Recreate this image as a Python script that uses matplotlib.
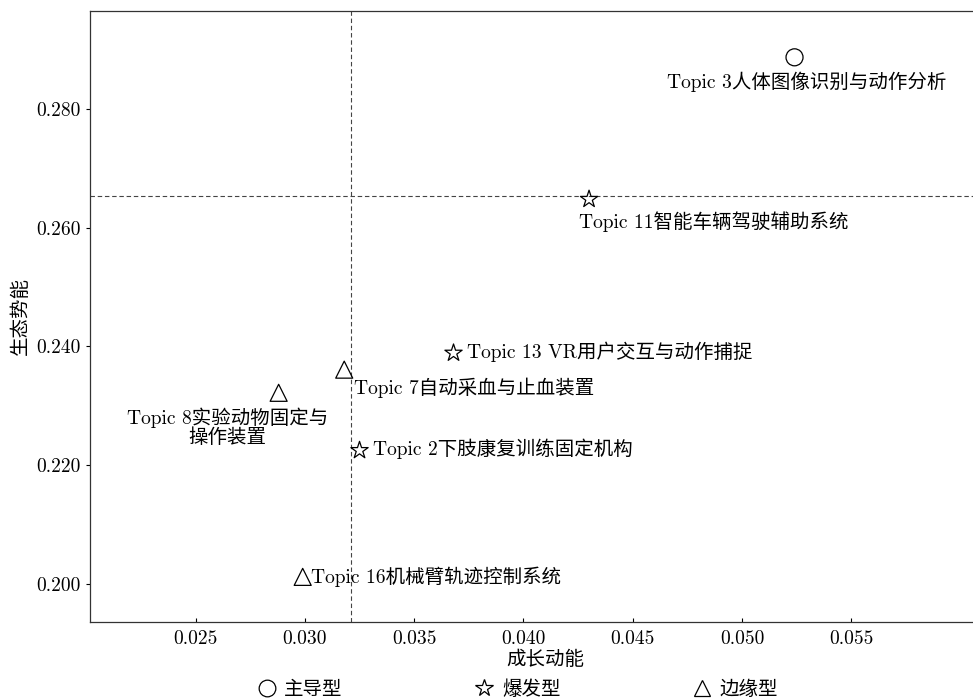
import numpy as np
import matplotlib
matplotlib.use('Agg')
import matplotlib.pyplot as plt
from matplotlib.ticker import FormatStrFormatter
from matplotlib.lines import Line2D

plt.rcParams['font.family'] = ['cmr10', 'Noto Sans CJK SC', 'DejaVu Sans']
plt.rcParams['axes.formatter.use_mathtext'] = True
plt.rcParams['font.size'] = 14

# data
topics = ['Topic 3人体图像识别与动作分析', 'Topic 11智能车辆驾驶辅助系统',
          'Topic 13 VR用户交互与动作捕捉', 'Topic 7自动采血与止血装置',
          'Topic 8实验动物固定与\n操作装置', 'Topic 2下肢康复训练固定机构',
          'Topic 16机械臂轨迹控制系统']
growth = [0.0524, 0.0430, 0.0368, 0.0318, 0.0288, 0.0325, 0.0299]
potential = [0.2887, 0.2648, 0.2389, 0.2361, 0.2322, 0.2225, 0.2012]
kinds = ['主导型', '爆发型', '爆发型', '边缘型', '边缘型', '爆发型', '边缘型']
growth_mean = 0.0321
potential_mean = 0.2653
legend_kinds = ['主导型', '爆发型', '边缘型']

marker_of = {'主导型': 'o', '爆发型': '*', '边缘型': '^'}
size_of = {'主导型': 150, '爆发型': 170, '边缘型': 150}
# label offsets in points (dx, dy, ha)
offsets = [(9, -18, 'center'), (-7, -16, 'left'), (10, 1, 'left'), (7, -13, 'left'),
           (-37, -25, 'center'), (10, 1, 'left'), (6, 0, 'left')]

fig = plt.figure(figsize=(9.73, 7.0), dpi=100)
ax = fig.add_axes([90 / 973, 78.3 / 700, 910 / 973, 610.7 / 700])

for x, y, k in zip(growth, potential, kinds):
    ax.scatter(x, y, marker=marker_of[k], s=size_of[k], facecolors='none',
               edgecolors='black', linewidths=0.9, zorder=3)

for name, x, y, (dx, dy, ha) in zip(topics, growth, potential, offsets):
    ax.annotate(name, (x, y), xytext=(dx, dy), textcoords='offset points',
                ha=ha, va='center', multialignment='center', fontsize=14,
                linespacing=1.0)

ax.axvline(growth_mean, color='#444444', lw=0.8, ls=(0, (4, 2.5)), zorder=1)
ax.axhline(potential_mean, color='#444444', lw=0.8, ls=(0, (4, 2.5)), zorder=1)

ax.set_xlim(0.02017, 0.0618)
ax.set_ylim(0.19365, 0.2965)
ax.set_xticks(np.arange(0.025, 0.0551, 0.005))
ax.set_yticks(np.arange(0.200, 0.2801, 0.02))
ax.xaxis.set_major_formatter(FormatStrFormatter('%.3f'))
ax.yaxis.set_major_formatter(FormatStrFormatter('%.3f'))
ax.tick_params(axis='x', direction='in', length=3, width=0.8, pad=6)
ax.tick_params(axis='y', direction='out', length=3, width=0.8, pad=4)
for s in ax.spines.values():
    s.set_linewidth(0.9)
    s.set_color('#333333')

ax.set_xlabel('成长动能', labelpad=2)
ax.set_ylabel('生态势能', labelpad=4)

handles = [Line2D([], [], ls='none', marker=marker_of[k], markersize=12 if k != '爆发型' else 13,
                  markerfacecolor='none', markeredgecolor='black', markeredgewidth=0.9)
           for k in legend_kinds]
fig.legend(handles, legend_kinds, loc='center', ncol=3,
           bbox_to_anchor=(0.532, 0.0143), frameon=False, handlelength=1.0,
           handletextpad=0.4, columnspacing=6.8, borderpad=0, fontsize=14)

fig.savefig('out.png', dpi=100)
